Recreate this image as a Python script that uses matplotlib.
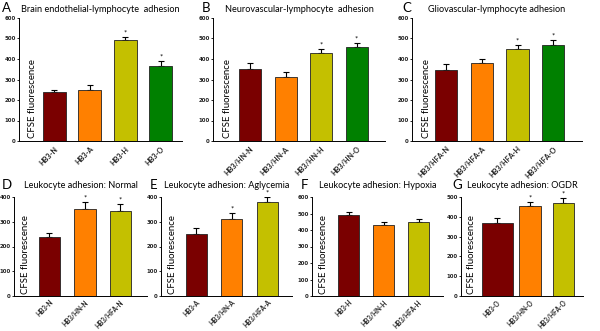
import matplotlib
matplotlib.use("Agg")
import matplotlib.pyplot as plt
import matplotlib.transforms as mtransforms

# bar colours by condition
DARK_RED = "#7a0000"
ORANGE = "#ff8000"
OLIVE = "#c4c000"
GREEN = "#008000"

# data (CFSE fluorescence, mean and upper error)
a_labels = ["HB3-N", "HB3-A", "HB3-H", "HB3-O"]
a_values = [238, 250, 492, 367]
a_errors = [12, 25, 15, 25]
a_stars = [False, False, True, True]

b_labels = ["HB3/HN-N", "HB3/HN-A", "HB3/HN-H", "HB3/HN-O"]
b_values = [351, 312, 430, 457]
b_errors = [29, 26, 20, 23]
b_stars = [False, False, True, True]

c_labels = ["HB3/HFA-N", "HB3/HFA-A", "HB3/HFA-H", "HB3/HFA-O"]
c_values = [344, 381, 450, 470]
c_errors = [30, 20, 20, 24]
c_stars = [False, False, True, True]

d_labels = ["HB3-N", "HB3/HN-N", "HB3/HFA-N"]
d_values = [238, 351, 344]
d_errors = [15, 29, 28]
d_stars = [False, True, True]

e_labels = ["HB3-A", "HB3/HN-A", "HB3/HFA-A"]
e_values = [250, 312, 381]
e_errors = [24, 25, 20]
e_stars = [False, True, True]

f_labels = ["HB3-H", "HB3/HN-H", "HB3/HFA-H"]
f_values = [492, 430, 450]
f_errors = [17, 18, 16]
f_stars = [False, False, False]

g_labels = ["HB3-O", "HB3/HN-O", "HB3/HFA-O"]
g_values = [367, 457, 470]
g_errors = [27, 20, 25]
g_stars = [False, True, True]

W, H = 600.0, 331.0
FONT = ["Lato", "DejaVu Sans"]


def px_axes(fig, left, right, top, bottom):
    """Add axes given pixel edges (origin top-left)."""
    return fig.add_axes([left / W, 1 - bottom / H, (right - left) / W, (bottom - top) / H])


def draw_panel(ax, labels, values, errors, stars, colors, ymax, xlim, widths, title, letter,
               title_y, letter_x, label_size=5.2, label_pad=3):
    x = list(range(len(values)))
    ax.bar(x, values, width=widths, color=colors, edgecolor="#222222", linewidth=0.6, zorder=2)
    ax.errorbar(x, values, yerr=[[0] * len(errors), errors], fmt="none", ecolor="black",
                elinewidth=0.8, capsize=2.2, capthick=0.8, zorder=1)
    for i, s in enumerate(stars):
        if s:
            ax.text(i, values[i] + errors[i] + ymax * 0.004, "*", ha="center", va="bottom",
                    fontsize=5.5, family=FONT)
    ax.set_xlim(*xlim)
    ax.set_ylim(0, ymax)
    ax.set_yticks(range(0, ymax + 1, 100))
    ax.set_xticks(x)
    ax.set_xticklabels(labels, rotation=45, ha="right", rotation_mode="anchor",
                       fontsize=label_size, fontweight="bold", color="#222222", family=FONT)
    shift = mtransforms.ScaledTranslation(0.1, 0, ax.figure.dpi_scale_trans)
    for lab in ax.get_xticklabels():
        lab.set_transform(lab.get_transform() + shift)
    ax.tick_params(axis="y", labelsize=3.9, length=1.5, width=0.6, pad=1,
                   labelcolor="#222222")
    ax.tick_params(axis="x", length=0, pad=label_pad)
    for lab in ax.get_yticklabels():
        lab.set_fontweight("bold")
    for sp in ("top", "right"):
        ax.spines[sp].set_visible(False)
    for sp in ("left", "bottom"):
        ax.spines[sp].set_linewidth(0.7)
    ax.text(0.085, 0.025, "CFSE fluorescence", transform=ax.transAxes, rotation=90,
            ha="center", va="bottom", fontsize=6.9, family=FONT)
    fig = ax.figure
    bb = ax.get_position()
    fig.text(bb.x0 + bb.width / 2, title_y, title, ha="center", va="center",
             fontsize=6.6, family=FONT)
    fig.text(letter_x, title_y + 0.004, letter, ha="left", va="center", fontsize=9.5,
             family=FONT)


fig = plt.figure(figsize=(6.0, 3.31), dpi=100)
fig.patch.set_facecolor("white")

top_colors = [DARK_RED, ORANGE, OLIVE, GREEN]
bot_colors = [DARK_RED, ORANGE, OLIVE]
top_y = 1 - 9 / H
bot_y = 1 - 186 / H
small = dict(label_size=4.7, label_pad=2)

ax = px_axes(fig, 19, 182, 18, 141)
draw_panel(ax, a_labels, a_values, a_errors, a_stars, top_colors, 600, (-1.0, 3.6), 0.65,
           "Brain endothelial-lymphocyte  adhesion", "A", top_y, 2 / W)

ax = px_axes(fig, 213, 385, 18, 141)
draw_panel(ax, b_labels, b_values, b_errors, b_stars, top_colors, 600, (-1.05, 3.8), 0.62,
           "Neurovascular-lymphocyte  adhesion", "B", top_y, 202 / W)

ax = px_axes(fig, 412, 582, 18, 141)
draw_panel(ax, c_labels, c_values, c_errors, c_stars, top_colors, 600, (-0.95, 3.8), 0.62,
           "Gliovascular-lymphocyte adhesion", "C", top_y, 402 / W)

ax = px_axes(fig, 14, 147, 197, 296)
draw_panel(ax, d_labels, d_values, d_errors, d_stars, bot_colors, 400, (-1.0, 2.75), 0.6,
           "Leukocyte adhesion: Normal", "D", bot_y, 2 / W, **small)

ax = px_axes(fig, 161, 292, 197, 296)
draw_panel(ax, e_labels, e_values, e_errors, e_stars, bot_colors, 400, (-1.0, 2.7), 0.6,
           "Leukocyte adhesion: Aglycemia", "E", bot_y, 150 / W, **small)

ax = px_axes(fig, 312, 443, 197, 296)
draw_panel(ax, f_labels, f_values, f_errors, f_stars, bot_colors, 600, (-1.05, 2.7), 0.6,
           "Leukocyte adhesion: Hypoxia", "F", bot_y, 301 / W, **small)

ax = px_axes(fig, 461, 583, 197, 296)
draw_panel(ax, g_labels, g_values, g_errors, g_stars, bot_colors, 500, (-1.1, 2.6),
           [0.95, 0.66, 0.64],
           "Leukocyte adhesion: OGDR", "G", bot_y, 452 / W, **small)

fig.savefig("out.png", dpi=100, facecolor="white")
